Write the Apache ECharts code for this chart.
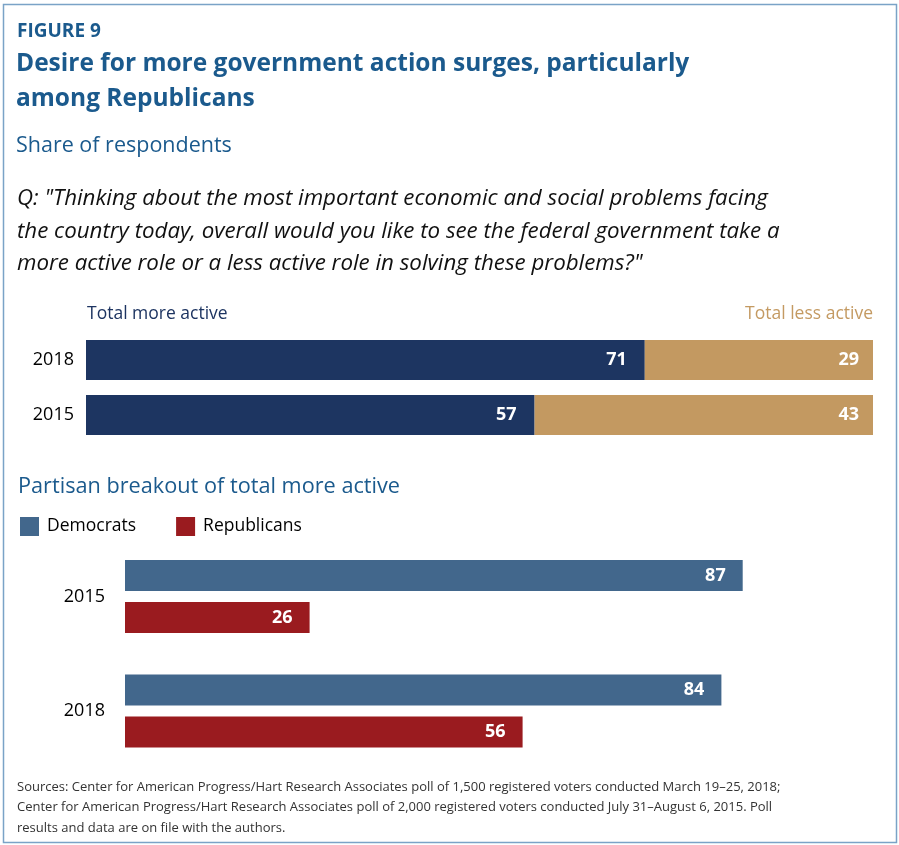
<!DOCTYPE html>
<html>
<head>
<meta charset="utf-8">
<script src="https://cdn.jsdelivr.net/npm/echarts@6/dist/echarts.min.js"></script>
<style>html,body{margin:0;padding:0;background:#fff}#c{width:899px;height:845px}</style>
</head>
<body>
<div id="c"></div>
<script>
var topCategories = ['2018', '2015'];
var moreActive = [71, 57];
var lessActive = [29, 43];
var partyCategories = ['2015', '2018'];
var democrats = [87, 84];
var republicans = [26, 56];

var FONT = '"Open Sans", "Noto Sans", sans-serif';
var BLUE = '#1b5a8d';
var chart = echarts.init(document.getElementById('c'), null, {renderer: 'canvas'});

function txt(x, y, text, style) {
  return {type: 'text', left: x, top: y, style: Object.assign({text: text, font: '18px ' + FONT, fill: '#000'}, style || {})};
}

var option = {
  animation: false,
  textStyle: {fontFamily: FONT},
  graphic: [
    {type: 'rect', shape: {x: 3.5, y: 4.5, width: 893, height: 838}, style: {fill: 'none', stroke: '#7aa3c7', lineWidth: 1.5}, z: -10},
    txt(17, 22, 'FIGURE 9', {font: 'bold 19px ' + FONT, fill: BLUE}),
    txt(16, 52, 'Desire for more government action surges, particularly', {font: 'bold 24.5px ' + FONT, fill: BLUE}),
    txt(16, 87, 'among Republicans', {font: 'bold 24.5px ' + FONT, fill: BLUE}),
    txt(16, 135, 'Share of respondents', {font: '21.5px ' + FONT, fill: BLUE}),
    txt(17, 188, 'Q: "Thinking about the most important economic and social problems facing', {font: 'italic 22.3px ' + FONT, fill: '#111'}),
    txt(17, 221, 'the country today, overall would you like to see the federal government take a', {font: 'italic 22.3px ' + FONT, fill: '#111'}),
    txt(17, 253, 'more active role or a less active role in solving these problems?"', {font: 'italic 22.3px ' + FONT, fill: '#111'}),
    txt(87, 305, 'Total more active', {font: '17.5px ' + FONT, fill: '#1d3461'}),
    {type: 'text', right: 26, top: 305, style: {text: 'Total less active', font: '17.5px ' + FONT, fill: '#c49a62'}},
    txt(18, 476, 'Partisan breakout of total more active', {font: '21.7px ' + FONT, fill: BLUE}),
    txt(17, 781, 'Sources: Center for American Progress/Hart Research Associates poll of 1,500 registered voters conducted March 19\u201325, 2018;', {font: '13px ' + FONT, fill: '#333'}),
    txt(17, 801, 'Center for American Progress/Hart Research Associates poll of 2,000 registered voters conducted July 31\u2013August 6, 2015. Poll', {font: '13px ' + FONT, fill: '#333'}),
    txt(17, 822, 'results and data are on file with the authors.', {font: '13px ' + FONT, fill: '#333'})
  ],
  legend: {
    left: 20, top: 517, padding: 0, itemWidth: 19, itemHeight: 19, itemGap: 40, icon: 'rect',
    textStyle: {fontSize: 17.5, fontFamily: FONT, color: '#000', padding: [0, 0, 0, 3]},
    data: ['Democrats', 'Republicans']
  },
  grid: [
    {left: 86, width: 787, top: 332.5, height: 110},
    {left: 125, width: 710, top: 539.25, height: 229}
  ],
  xAxis: [
    {gridIndex: 0, type: 'value', min: 0, max: 100, show: false},
    {gridIndex: 1, type: 'value', min: 0, max: 100, show: false}
  ],
  yAxis: [
    {gridIndex: 0, type: 'category', inverse: true, data: topCategories,
     axisLine: {show: false}, axisTick: {show: false},
     axisLabel: {fontSize: 18, color: '#000', margin: 12, fontFamily: FONT}},
    {gridIndex: 1, type: 'category', inverse: true, data: partyCategories,
     axisLine: {show: false}, axisTick: {show: false},
     axisLabel: {fontSize: 18, color: '#000', margin: 20, fontFamily: FONT}}
  ],
  series: [
    {name: 'Total more active', type: 'bar', xAxisIndex: 0, yAxisIndex: 0, stack: 'tot', data: moreActive,
     barWidth: 40, itemStyle: {color: '#1d3561'},
     label: {show: true, position: 'insideRight', distance: 18, color: '#fff', fontWeight: 'bold', fontSize: 18, fontFamily: FONT}},
    {name: 'Total less active', type: 'bar', xAxisIndex: 0, yAxisIndex: 0, stack: 'tot', data: lessActive,
     barWidth: 40, itemStyle: {color: '#c39961'},
     label: {show: true, position: 'insideRight', distance: 14, color: '#fff', fontWeight: 'bold', fontSize: 18, fontFamily: FONT}},
    {name: 'Democrats', type: 'bar', xAxisIndex: 1, yAxisIndex: 1, data: democrats,
     barWidth: 31, barGap: '35.5%', itemStyle: {color: '#42678c'},
     label: {show: true, position: 'insideRight', distance: 17, color: '#fff', fontWeight: 'bold', fontSize: 18, fontFamily: FONT}},
    {name: 'Republicans', type: 'bar', xAxisIndex: 1, yAxisIndex: 1, data: republicans,
     barWidth: 31, barGap: '35.5%', itemStyle: {color: '#9a1b1f'},
     label: {show: true, position: 'insideRight', distance: 17, color: '#fff', fontWeight: 'bold', fontSize: 18, fontFamily: FONT}}
  ]
};
chart.setOption(option);
</script>
</body>
</html>
